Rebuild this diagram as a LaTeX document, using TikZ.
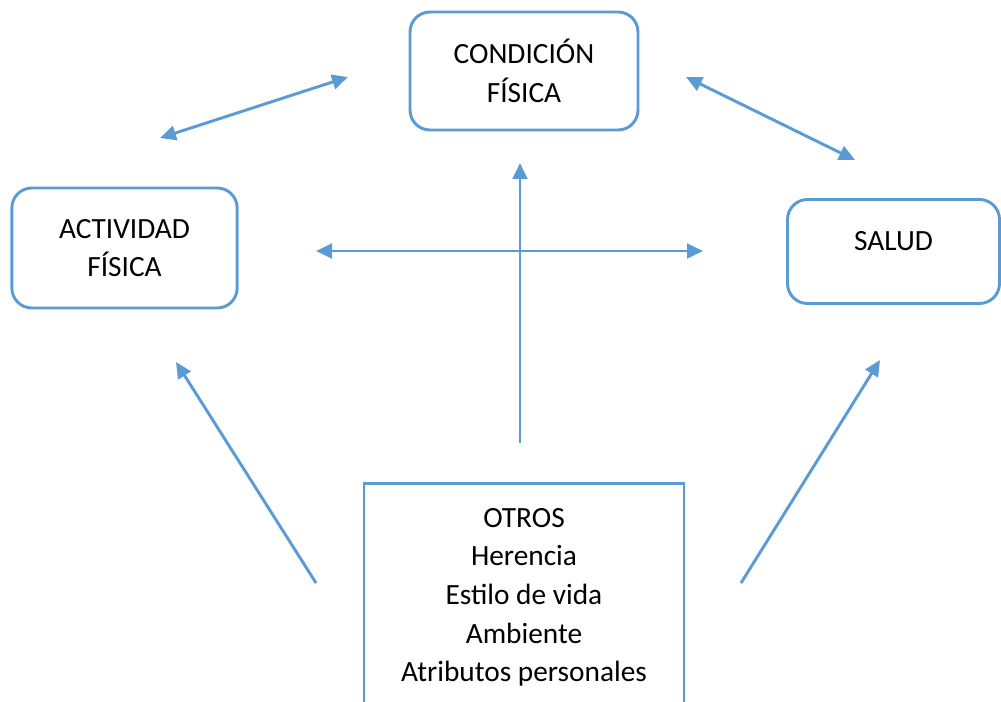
\documentclass[tikz,border=0pt]{standalone}
\usepackage{fontspec}
\setmainfont{Carlito}
\usepackage{xcolor}
\usetikzlibrary{arrows.meta}
\definecolor{lin}{RGB}{91, 155, 213}

\tikzset{
  caja/.style={draw=lin, line width=2.2pt, rounded corners=15pt, align=center,
    font=\fontsize{22}{29}\selectfont},
  flecha/.style={color=lin, line width=2.2pt, >={Triangle[length=12pt,width=11pt]}}
}

\begin{document}
\begin{tikzpicture}[x=0.75pt, y=-0.75pt]
      \useasboundingbox (0,0) rectangle (1001,702);
      \clip (0,0) rectangle (1001,702);
      \node[caja, minimum width=171pt, minimum height=88.5pt] (cond) at (524, 71) {CONDICIÓN\\FÍSICA};
      \node[caja, minimum width=169pt, minimum height=90pt] (act) at (124.5, 248) {ACTIVIDAD\\FÍSICA};
      \node[caja, minimum width=159pt, minimum height=78pt, text height=15pt, text depth=16.8pt] (sal) at (893.5, 251.5) {SALUD};
      \node[caja, rounded corners=0pt, minimum width=240pt, minimum height=171pt] (otros) at (524, 597.5)
        {OTROS\\Herencia\\Estilo de vida\\Ambiente\\Atributos personales};
      \coordinate (a1) at (160, 138);
      \coordinate (a2) at (348, 77);
      \coordinate (b1) at (686, 77);
      \coordinate (b2) at (855, 160);
      \coordinate (c1) at (316, 251);
      \coordinate (c2) at (703, 251);
      \coordinate (d1) at (520, 443);
      \coordinate (d2) at (520, 163);
      \coordinate (e1) at (316, 583);
      \coordinate (e2) at (176, 362);
      \coordinate (f1) at (741, 583);
      \coordinate (f2) at (880, 360);
      \draw[flecha, <->] (a1)--(a2);
      \draw[flecha, <->] (b1)--(b2);
      \draw[flecha, <->] (c1)--(c2);
      \draw[flecha, ->] (d1)--(d2);
      \draw[flecha, ->] (e1)--(e2);
      \draw[flecha, ->] (f1)--(f2);
    \end{tikzpicture}
\end{document}
